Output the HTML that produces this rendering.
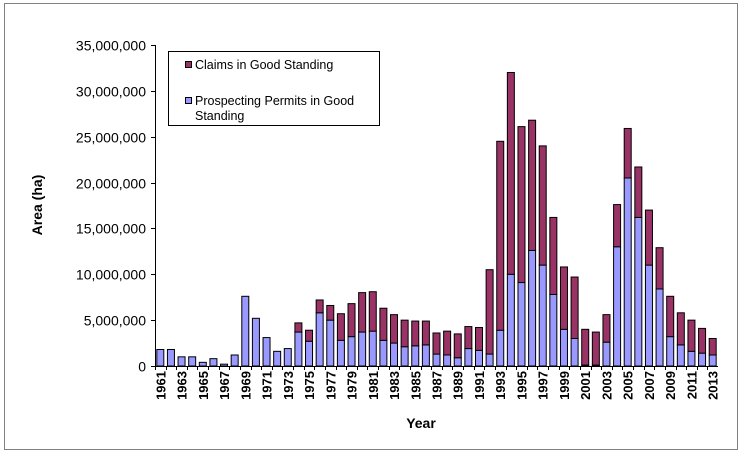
<!DOCTYPE html>
<html><head><meta charset="utf-8"><style>
body{margin:0;background:#fff;}
svg{display:block;font-family:"Liberation Sans",Arial,sans-serif;}
</style></head><body>
<svg id="chart" width="742" height="454" viewBox="0 0 742 454">
<rect x="4.5" y="3.5" width="733" height="446" fill="#fff" stroke="#808080"/>
<g id="yaxis"></g>
<g id="bars"></g>
<g id="xaxis"></g>
<text x="42" y="205" transform="rotate(-90 42 205)" text-anchor="middle" font-weight="bold" font-size="14">Area (ha)</text>
<text x="421" y="428" text-anchor="middle" font-weight="bold" font-size="14">Year</text>
<g>
<rect x="168.5" y="51.5" width="211" height="74" fill="#fff" stroke="#000"/>
<rect x="185.5" y="61.5" width="6" height="6" fill="#993366" stroke="#000"/>
<text x="195" y="69" font-size="12.5">Claims in Good Standing</text>
<rect x="185.5" y="97.5" width="6" height="6" fill="#9999ff" stroke="#000"/>
<text x="195" y="105" font-size="12.5">Prospecting Permits in Good</text>
<text x="195" y="120" font-size="12.5">Standing</text>
</g>
</svg>
<script>
const years=[];for(let y=1961;y<=2013;y++)years.push(y);
const permits=[1.8,1.8,1.0,1.0,0.4,0.8,0.2,1.2,7.6,5.2,3.1,1.6,1.9,3.7,2.7,5.8,5.0,2.8,3.2,3.7,3.8,2.8,2.5,2.1,2.2,2.3,1.3,1.2,0.9,1.9,1.7,1.3,3.9,10.0,9.1,12.6,11.0,7.8,4.0,3.0,0.1,0.1,2.6,13.0,20.5,16.2,11.0,8.4,3.2,2.3,1.6,1.4,1.2];
const claims=[0,0,0,0,0,0,0,0,0,0,0,0,0,1.0,1.2,1.4,1.6,2.9,3.6,4.3,4.3,3.5,3.1,2.9,2.7,2.6,2.3,2.6,2.6,2.4,2.5,9.2,20.6,22.0,17.0,14.2,13.0,8.4,6.8,6.7,3.9,3.6,3.0,4.6,5.4,5.5,6.0,4.5,4.4,3.5,3.4,2.7,1.8];
const yTicks=[0,5,10,15,20,25,30,35];
const NS="http://www.w3.org/2000/svg";
const x0=155,x1=718,y0=366,y1=45,yMax=35;
const slot=(x1-x0)/years.length;
const yS=v=>y0-(v/yMax)*(y0-y1);
const xS=i=>x0+slot*i+slot/2;
function mk(tag,attrs,parent,txt){const e=document.createElementNS(NS,tag);for(const k in attrs)e.setAttribute(k,attrs[k]);if(txt!==undefined)e.textContent=txt;parent.appendChild(e);return e;}
const ya=document.getElementById('yaxis'),xa=document.getElementById('xaxis'),bg=document.getElementById('bars');
const ax=mk('line',{x1:x0+.5,y1:y1,x2:x0+.5,y2:y0,stroke:'#000'},ya);


yTicks.forEach(t=>{const y=Math.round(yS(t))+.5;
 const l=mk('line',{x1:x0-4,y1:y,x2:x0,y2:y,stroke:'#000'},ya);
 
 
 const tx=mk('text',{x:146,y:y+5,'text-anchor':'end','font-size':14},ya,(t*1000000).toLocaleString('en-US'));
 
 
});
const xl=mk('line',{x1:x0,y1:y0+.5,x2:x1,y2:y0+.5,stroke:'#000'},xa);


const bw=7;
years.forEach((yr,i)=>{const cx=xS(i);
 const tk=mk('line',{x1:Math.round(x0+slot*i)+.5,y1:y0,x2:Math.round(x0+slot*i)+.5,y2:y0+4,stroke:'#000'},xa);
 
 
 if(i%2===0){const t=mk('text',{x:cx+5,y:y0+5,transform:`rotate(-90 ${cx+5} ${y0+5})`,'text-anchor':'end','font-size':13,'font-weight':'bold'},xa,String(yr));
  
  }
 const p=permits[i],c=claims[i];
 const pb=mk('rect',{x:cx-bw/2,y:yS(p),width:bw,height:y0-yS(p),fill:'#9999ff',stroke:'#000','stroke-width':1},bg);
 
 
 if(c>0){const cb=mk('rect',{x:cx-bw/2,y:yS(p+c),width:bw,height:yS(p)-yS(p+c),fill:'#993366',stroke:'#000','stroke-width':1},bg);
  
  }
});
</script>
</body></html>
